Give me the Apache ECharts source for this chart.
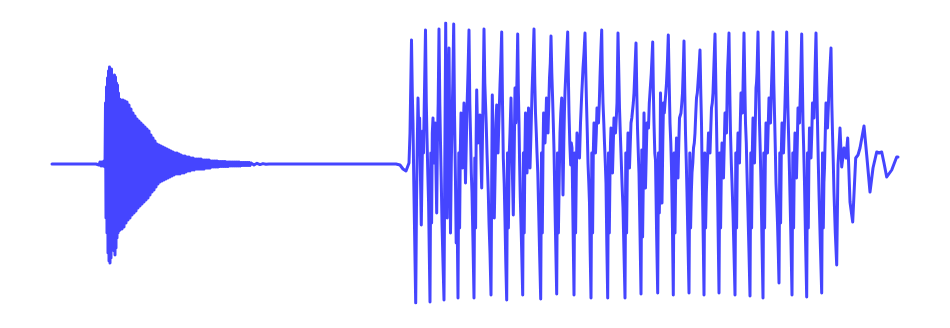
<!DOCTYPE html>
<html>
<head>
<meta charset="utf-8">
<script src="https://cdn.jsdelivr.net/npm/echarts@6/dist/echarts.min.js"></script>
<style>
html,body{margin:0;padding:0;background:#fff;}
#chart{width:950px;height:328px;}
</style>
</head>
<body>
<div id="chart"></div>
<script>
// Waveform: [time, amplitude] pairs per segment
const leadIn = [[52,-1],[96,-1],[98,0],[99,-2],[100,1],[101,-3],[102,1],[103,-3],[104,2],[105,-4]];

const burst = [
[105.5,60],[106,-55],[106.5,76],[107,-70],[107.5,85],[108,-90],[108.5,92],[109,-98],[109.5,96],[110,-100],
[110.5,90],[111,-95],[111.5,94],[112,-80],[112.5,85],[113,-74],[113.5,83],[114,-88],[114.5,88],[115,-92],
[115.5,86],[116,-85],[116.5,80],[117,-75],[117.5,78],[118,-70],[118.5,70],[119,-68],[119.5,64],[120,-67],
[121,63],[122,-66],[123,63],[124,-64],[125,62],[126,-60],[127,61],[128,-57],[129,58],[130,-55],
[131,54],[132,-52],[133,50],[134,-50],[135,47],[136,-48],[137,44],[138,-45],[139,42],[140,-43],
[141,40],[142,-41],[143,38],[144,-39],[145,36],[146,-37],[147,34],[148,-35],[149,32],[150,-32],
[151,28],[152,-29],[153,25],[154,-27],[155,22],[156,-24],[157,19],[158,-21],[159,18],[160,-19],
[161,17],[162,-18],[163,16],[164,-17],[165,15],[166,-16],[167,14],[168,-15],[169,13],[170,-14],
[171,12],[172,-13],[173,11],[174,-12],[175,10],[176,-11],[177,10],[178,-11],[179,9],[180,-11],
[181,8],[182,-10],[183,7],[184,-10],[185,7],[186,-9],[187,6],[188,-8],[189,6],[190,-8],
[191,5],[192,-7],[193,5],[194,-7],[195,4],[196,-6],[197,4],[198,-6],[199,4],[200,-6],
[201,4],[202,-6],[203,3],[204,-6],[205,3],[206,-5],[207,3],[208,-5],[209,3],[210,-5],
[211,2],[212,-4],[213,2],[214,-4],[215,2],[216,-4],[217,2],[218,-4],[219,1.5],[220,-3.5],
[221,1.5],[222,-3.5],[223,1.5],[224,-3.5],[225,1.5],[226,-3.5],[227,1],[228,-3.5],[229,1],[230,-3],
[231,1],[232,-3],[233,1],[234,-3],[235,1],[236,-3],[237,1],[238,-3],[239,1],[240,-3],
[241,0.5],[242,-2.5],[243,0.5],[244,-2.5],[245,0.5],[246,-2.5],[247,0.5],[248,-2.5],[249,0.5],[250,-2.5],
[251,0],[252,-2],[253,0],[254,-2],[255,-0.2],[256,-1.8],[257,-0.3],[258,-1.7],[259,-0.4],[260,-1.6],
[261,-0.5],[262,-1.5],[263,-0.6],[264,-1.4],[265,-0.7],[266,-1.3],[267,-0.8],[268,-1.2],[269,-0.9],[270,-1.1],
[272,-1]
];

const quiet = [[300,-1],[350,-1],[396,-1],[400,-2],[403,-6],[406,-8],[408,-6],[409,0]];

const chatter = [
[410,30],[411.5,123],[412.3,70],[413,40],[413.8,-20],[414.6,-70],[415.7,-140],[416.5,-40],[417.3,20],[418,65],
[418.8,30],[419.6,45],[420.4,-10],[421.3,-62],[422,-10],[422.7,32],[423.5,10],[424.3,60],[425.5,133],
[426.3,60],[427,25],[427.8,-10],[428.6,-40],[429.3,-90],[430,-139],[430.8,10],[431.6,-60],[432.3,30],[433,45],
[433.8,5],[434.5,0],[435.3,40],[436,-10],[436.7,-50],[437.4,20],[438.2,60],[439,134],
[439.8,60],[440.5,20],[441.3,-20],[442,-60],[443,-100],[444,-137],[444.8,0],[445.7,140],[446.4,30],[447.2,-55],
[448,40],[449,115],[449.8,20],[450.5,-70],[451.3,0],[452,40],[452.8,80],[453.7,139],[454.5,50],[455.5,-20],
[456.2,-80],[457,-40],[458,-135],[458.8,10],[459.6,-65],[460.3,10],[461,50],[461.8,20],[462.5,-5],[463.2,30],
[464,60],[464.8,20],[465.5,-20],[466.3,20],[467,55],[468,90],[469,133],
[469.8,60],[470.5,30],[471.3,-10],[472,-30],[473,-80],[474,-135],[474.8,5],[475.6,-65],[476.2,30],[476.7,73],
[477.4,40],[478,20],[479,35],[480,48],[480.8,10],[481.7,-25],[482.4,20],[483,60],[483.5,95],[484,134],
[484.8,80],[485.5,60],[486.2,40],[487,10],[487.5,-5],[488.3,-30],[489,-60],[490,-90],[491,-132],[491.7,-20],
[492.3,68],[493.3,10],[494.3,-55],[495.3,0],[496,40],[496.7,58],[497.4,30],[498,10],[499,45],[500,78],
[500.8,100],[501.7,131],
[502.5,60],[503.3,5],[504.2,-20],[505,-58],[505.8,-100],[506.7,-137],[507.5,10],[508.4,-65],[509.3,10],[510,30],
[511,65],[512.2,0],[513.3,-52],[514.2,10],[515,75],[515.8,40],[516.5,60],[517.1,90],[517.7,129],
[518.4,70],[519,40],[519.6,0],[520.3,-35],[521.5,-80],[522.7,-132],[523.4,10],[524.2,-70],[524.9,10],[525.5,50],
[526.3,20],[527,-10],[527.8,20],[528.5,55],[529.3,25],[530,-5],[531,30],[532,70],[533,100],[534,134],
[534.8,80],[535.5,50],[536.3,30],[537,10],[537.8,-10],[538.5,-40],[539.6,-90],[540.7,-136],[541.5,10],[542.3,-70],
[543,10],[543.6,50],[544.3,40],[545,20],[545.8,40],[546.5,65],[547.3,45],[548,30],[548.8,60],[549.5,85],
[550.3,100],[551,127],
[551.8,90],[552.5,68],[553.3,40],[554,13],[555.3,-60],[556.7,-131],[557.5,10],[558.4,-70],[559.3,-10],[560,30],
[560.8,50],[561.7,65],[562.3,20],[563,-32],[563.8,20],[564.4,50],[565,71],[566.3,100],[567.7,131],
[568.3,90],[569,50],[569.8,20],[570.7,-2],[571.3,20],[572,15],[573,-60],[574,-132],[574.8,10],[575.6,-70],
[576.3,-10],[577,30],[577.7,21],[578.6,10],[579.5,5],[580.5,40],[581.7,68],[582.3,80],[583,95],[584,110],[585,130],
[585.8,90],[586.5,60],[587.3,30],[588,0],[588.8,-20],[589.5,-40],[590.2,-90],[591,-135],[591.8,10],[592.6,-70],
[593.3,10],[594,40],[594.8,30],[595.5,10],[596.3,30],[597,55],[597.8,50],[598.5,40],[599.3,60],[600,85],
[600.8,110],[601.7,133],
[602.3,90],[603,60],[603.8,40],[604.5,20],[605.3,0],[606,-20],[606.8,-80],[607.7,-135],[608.5,10],[609.3,-70],
[610,-10],[610.5,20],[611,35],[611.8,10],[612.5,-10],[613.3,20],[614,45],[614.8,40],[615.5,30],[616.3,45],
[617,60],[617.5,95],[618,130],
[618.8,90],[619.5,55],[620.3,30],[621,10],[622,-20],[623,-45],[624,-90],[625,-135],[625.8,10],[626.6,-70],
[627.4,0],[628,30],[628.8,10],[629.5,-5],[630.3,20],[631,40],[631.8,45],[632.5,45],[633.3,60],[634,70],
[635,95],[636,120],
[636.8,70],[637.5,35],[638.3,10],[639,-10],[640,-70],[641,-131],[641.8,13],[642.6,-74],[643.4,-10],[644,50],
[644.8,0],[645.5,-25],[646.3,10],[647,40],[647.8,40],[648.5,35],[649.3,60],[650,60],[651.3,90],[652.7,121],
[653.4,70],[654,40],[654.8,10],[655.5,3],[656.6,-70],[657.7,-130],[658.5,10],[659.3,-50],[660,-5],[660.5,70],
[661.3,20],[662,-40],[662.8,20],[663.5,60],[664.3,50],[665,60],[665.8,70],[666.5,80],[667.4,100],[668.3,128],
[669.2,80],[670,40],[670.8,20],[671.5,-5],[672.4,-60],[673.3,-132],[674.1,10],[675,-70],[675.8,-5],[676.5,25],
[677.3,5],[678,-15],[678.8,20],[679.5,45],[680.3,45],[681,50],[681.8,60],[682.5,70],[683.3,95],[684,122],
[684.8,70],[685.5,30],[686.3,0],[687,-30],[688,-80],[689,-130],[689.8,10],[690.6,-65],[691.3,-30],[692,-10],
[692.8,0],[693.5,15],[694.3,20],[695,30],[695.8,50],[696.5,65],[697.3,70],[698,80],[699,95],[700,113],
[700.8,70],[701.5,40],[702,0],[702.5,-30],[703.3,-80],[704,-132],[704.8,10],[705.6,-65],[706.3,-30],[707,-10],
[707.8,10],[708.5,30],[709.3,20],[710,10],[710.8,35],[711.5,55],[712.3,60],[713,70],[714,100],[715,129],
[715.8,80],[716.5,40],[717,10],[717.5,-20],[718.3,-80],[719,-130],[719.8,10],[720.6,-65],[721.3,-10],[722,20],
[722.8,0],[723.5,-15],[724.3,20],[725,50],[725.8,40],[726.5,30],[727,60],[727.5,90],[728.3,110],[729,130],
[729.8,70],[730.5,30],[731.3,0],[732,-20],[733,-50],[734,-90],[735,-132],[735.8,10],[736.6,-65],[737.3,0],
[738,30],[738.8,15],[739.5,0],[740.3,40],[741,70],[741.8,60],[742.5,50],[743.3,90],[744,130],
[744.8,80],[745.5,40],[746.3,20],[747,-10],[748,-50],[749,-90],[750,-133],[750.8,10],[751.6,-65],[752.3,10],
[753,45],[753.8,20],[754.5,0],[755.3,40],[756,75],[756.5,80],[757,90],[757.5,110],[758,131],
[758.8,80],[759.5,40],[760.3,10],[761,-20],[762,-80],[763,-135],[763.8,10],[764.6,-65],[765.3,0],[766,40],
[766.8,25],[767.5,10],[768.3,40],[769,65],[769.8,50],[770.5,40],[771.3,70],[772.2,100],[773,131],
[773.8,80],[774.5,50],[775.3,15],[776,-20],[776.8,-40],[777.5,-60],[778.3,-90],[779,-120],[779.8,10],[780.6,-60],
[781.3,10],[782,40],[782.8,25],[783.5,10],[784.3,35],[785,60],[785.8,90],[786.7,131],
[787.4,80],[788,50],[788.8,20],[789.5,-10],[790.8,-70],[792,-132],[792.8,10],[793.6,-65],[794.3,0],[795,30],
[795.8,5],[796.5,-15],[797.3,20],[798,55],[798.8,50],[799.5,40],[800.6,80],[801.7,129],
[802.4,80],[803,40],[803.8,10],[804.5,-20],[805.6,-80],[806.7,-134],[807.5,10],[808.3,-65],[808.9,0],[809.5,35],
[810.3,20],[811,5],[811.8,30],[812.5,60],[813.3,55],[814,45],[815,90],[816,130],
[816.8,80],[817.5,40],[818.3,0],[819,-30],[820.3,-80],[821.7,-130],[822.5,10],[823.3,-65],[823.9,-20],[824.5,-5],
[825.3,30],[826,60],[826.8,50],[827.5,35],[828.3,55],[829,75],[830,95],[831,115],
[831.8,60],[832.5,30],[833.3,0],[834,-30],[835.3,-70],[836.7,-102]
];

const tail = [
[838,-2],[840,35],[841.7,-4],[844,15],[846,5],[847.7,25],[850,-39],[852.7,-59],[855.7,5],[858,8],
[860,15],[864,37],[866.7,8],[870,-29],[873,-5],[876.7,11],[879,10],[881.7,11],[884,0],[886.7,-14],
[891.7,-7],[896.7,6],[898,6]
];

const timeMin = 52, timeMax = 898;
const ampMin = -140, ampMax = 140;

const chart = echarts.init(document.getElementById('chart'), null, {renderer: 'canvas'});
chart.setOption({
  animation: false,
  backgroundColor: '#ffffff',
  grid: {left: 52, right: 52, top: 23, bottom: 25},
  xAxis: {type: 'value', min: timeMin, max: timeMax, show: false},
  yAxis: {type: 'value', min: ampMin, max: ampMax, show: false},
  series: [{
    type: 'line',
    data: leadIn.concat(burst, quiet, chatter, tail),
    showSymbol: false,
    sampling: null,
    smooth: false,
    lineStyle: {color: '#4545ff', width: 3, join: 'round', cap: 'round'},
    itemStyle: {color: '#4545ff'}
  }]
});
</script>
</body>
</html>
